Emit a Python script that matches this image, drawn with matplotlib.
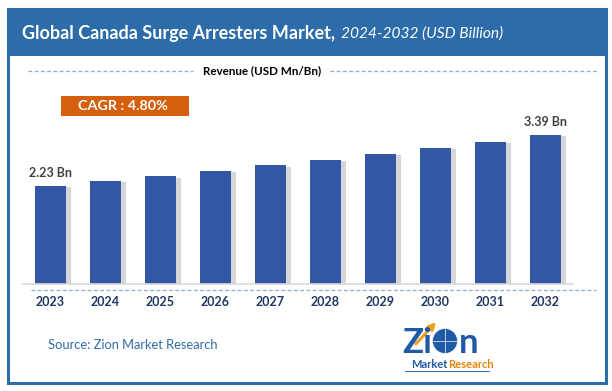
import matplotlib
matplotlib.use("Agg")
import matplotlib.pyplot as plt
from matplotlib import patches

plt.rcParams['font.family'] = ['Lato', 'DejaVu Sans']

# data
years = ['2023', '2024', '2025', '2026', '2027', '2028', '2029', '2030', '2031', '2032']
revenue = [2.23, 2.34, 2.45, 2.57, 2.70, 2.83, 2.96, 3.10, 3.24, 3.39]
first_label = '2.23 Bn'
last_label = '3.39 Bn'
cagr_text = 'CAGR : 4.80%'

W, H = 612, 391
BLUE = '#2B6CA9'
BAR = '#3257A5'
NAVY = '#1F3864'
ORANGE = '#D4600E'
DASH = '#8EA9DB'
LOGO_BLUE = '#1F5AA6'

fig = plt.figure(figsize=(W / 100, H / 100), dpi=100)

# background layer in pixel coords
bg = fig.add_axes([0, 0, 1, 1])
bg.set_xlim(0, W)
bg.set_ylim(H, 0)
bg.axis('off')

bg.add_patch(patches.Rectangle((7.5, 8.5), 598, 374, fill=False, ec=BLUE, lw=2.2))
bg.add_patch(patches.Rectangle((7.5, 8.5), 598, 47, fc=BLUE, ec=BLUE, lw=0))

bg.text(22, 34, 'Global Canada Surge Arresters Market,', color='white',
        fontsize=13.0, fontweight='bold', va='center', ha='left')
bg.text(341, 34, '2024-2032 (USD Billion)', color='white',
        fontsize=11.2, fontstyle='italic', va='center', ha='left')

# revenue header with dashed lines
bg.plot([28, 193], [71, 71], ls=(0, (3, 2)), color=DASH, lw=0.9)
bg.plot([330, 597], [71, 71], ls=(0, (3, 2)), color=DASH, lw=0.9)
bg.text(262, 71, 'Revenue (USD Mn/Bn)', color='black', fontsize=8.4,
        fontweight='bold', va='center', ha='center')

# CAGR box
bg.add_patch(patches.Rectangle((61, 96), 128, 20, fc=ORANGE, ec='none'))
bg.text(123, 106, cagr_text, color='white', fontsize=10.4, fontweight='bold',
        va='center', ha='center')

# dashed line under the axis
bg.plot([31, 596], [290, 290], ls=(0, (3, 2)), color=DASH, lw=0.9)

# source
bg.text(48, 345, 'Source: Zion Market Research', color='#2E6DA8', fontsize=9.3,
        va='center', ha='left')

# logo
bg.annotate('', xy=(438, 320), xytext=(414, 346),
            arrowprops=dict(arrowstyle='-|>', color='#F0A020', lw=2.2,
                            mutation_scale=10))
bg.text(432, 353, 'Zi', color=LOGO_BLUE, fontsize=25, fontweight='bold',
        va='baseline', ha='right')
bg.add_patch(patches.Circle((445, 341), 12.5, fc=LOGO_BLUE, ec='none'))
bg.add_patch(patches.Circle((445, 341), 12.5, fill=False, ec='white', lw=0.5))
bg.plot([432.5, 457.5], [341, 341], color='white', lw=0.5)
bg.plot([445, 445], [328.5, 353.5], color='white', lw=0.5)
bg.text(459, 353, 'n', color=LOGO_BLUE, fontsize=25, fontweight='bold',
        va='baseline', ha='left')
bg.text(447, 365, 'Market', color=LOGO_BLUE, fontsize=8, fontweight='bold',
        va='center', ha='right')
bg.text(448, 365, 'Research', color='#E8850C', fontsize=8, fontweight='bold',
        va='center', ha='left')
bg.plot([405, 489], [371, 371], color=LOGO_BLUE, lw=0.6)

# bar chart axes: x from 23 to 573 px, y from 120 to 284 px
ax = fig.add_axes([23 / W, 1 - 284 / H, 550 / W, 164 / H])
ax.patch.set_alpha(0)
x = list(range(len(years)))
ax.bar([i + 0.1 for i in x], [v - 0.03 for v in revenue], width=0.56,
       color='#9A9A9A', alpha=0.4, zorder=1)
ax.bar(x, revenue, width=0.56, color=BAR, zorder=2)
ax.set_xlim(-0.5, 9.5)
ax.set_ylim(0, 3.73)
for s in ['left', 'right', 'top']:
    ax.spines[s].set_visible(False)
ax.spines['bottom'].set_color('#D9D9D9')
ax.spines['bottom'].set_linewidth(1.2)
ax.set_yticks([])
ax.set_xticks(x)
ax.set_xticklabels(years, color=NAVY, fontsize=9, fontweight='bold')
ax.tick_params(axis='x', length=0, pad=9)

ax.text(x[0], revenue[0] + 0.15, first_label, ha='center', va='bottom',
        color='#404040', fontsize=9, fontweight='bold')
ax.text(x[-1], revenue[-1] + 0.15, last_label, ha='center', va='bottom',
        color='#404040', fontsize=9, fontweight='bold')

fig.savefig('out.png', dpi=100)
